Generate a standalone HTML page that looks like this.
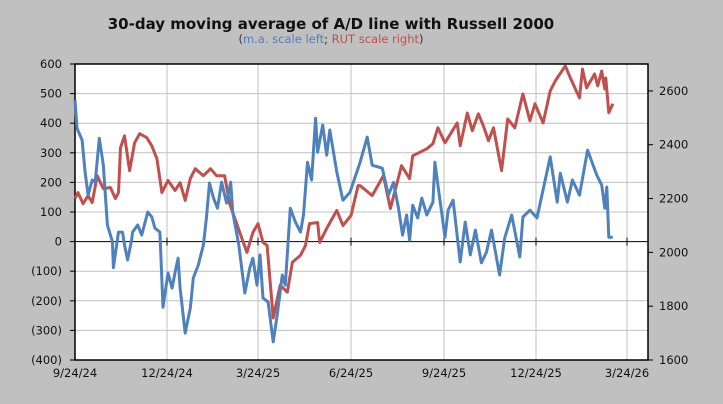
<!DOCTYPE html>
<html><head><meta charset="utf-8"><style>
html,body{margin:0;padding:0;background:#c0c0c0;}
svg{display:block;font-family:"DejaVu Sans","Liberation Sans",sans-serif;}
</style></head><body>
<svg id="chart" width="723" height="404" xmlns="http://www.w3.org/2000/svg">
<rect x="0" y="0" width="723" height="404" fill="#c0c0c0"/>
<text x="331" y="29" text-anchor="middle" font-size="15" font-weight="bold" fill="#111">30-day moving average of A/D line with Russell 2000</text>
<text x="331" y="43" text-anchor="middle" font-size="11.5"><tspan fill="#333">(</tspan><tspan fill="#4f81bd">m.a. scale left</tspan><tspan fill="#333">; </tspan><tspan fill="#c0504d">RUT scale right</tspan><tspan fill="#333">)</tspan></text>
<rect x="75" y="64" width="573" height="296" fill="#fff"/>
<g id="grid"></g><g id="axes"></g><g id="series"></g>
</svg>
<script>
const xTickLabels=["9/24/24","12/24/24","3/24/25","6/24/25","9/24/25","12/24/25","3/24/26"];
const xTickDays=[0,91,181,273,365,456,546];
const leftTicks=[600,500,400,300,200,100,0,-100,-200,-300,-400];
const leftTickLabels=["600","500","400","300","200","100","0","(100)","(200)","(300)","(400)"];
const rightTicks=[2600,2400,2200,2000,1800,1600];
const adDays=[0,2,7,10,13,17,20,24,28,32,37,38,43,47,49,52,56,57,62,66,72,76,79,84,87,92,96,99,102,104,109,114,117,122,127,130,133,137,141,145,150,154,156,162,168,173,176,180,183,186,191,196,200,205,208,213,218,223,226,230,234,238,240,245,249,252,259,265,272,282,289,294,304,310,315,320,324,328,331,334,339,343,348,354,356,359,366,369,374,381,386,391,396,402,407,412,420,425,432,440,443,450,457,470,477,480,487,492,499,507,516,521,524,526,528,532];
const adValues=[478,383,343,235,157,208,201,349,259,56,0,-88,32,32,-11,-62,5,32,56,22,100,83,46,32,-222,-106,-157,-103,-56,-157,-309,-225,-123,-79,-11,80,198,147,113,201,130,201,100,-11,-174,-88,-56,-147,-45,-191,-204,-339,-248,-113,-147,113,66,32,90,268,208,417,302,394,292,377,235,140,167,268,353,258,248,157,200,113,22,90,5,123,80,147,90,133,268,191,15,106,140,-69,66,-45,39,-72,-35,39,-113,12,90,-52,83,106,80,286,133,231,133,208,157,309,225,191,113,184,15,15];
const rutDays=[0,3,8,13,17,22,28,35,40,43,45,49,54,59,64,71,76,81,86,92,99,104,109,114,119,127,134,140,148,153,163,170,176,181,186,190,196,203,210,215,223,228,232,240,242,249,259,265,273,280,282,294,305,312,323,331,334,348,354,359,366,378,381,388,393,399,404,409,414,422,428,435,443,450,455,463,470,475,485,490,499,502,506,514,517,521,524,525,528,532];
const rutValues=[2200,2222,2181,2211,2185,2285,2237,2241,2200,2222,2389,2433,2304,2407,2441,2426,2396,2348,2222,2267,2230,2259,2193,2274,2311,2285,2311,2285,2285,2181,2074,2000,2074,2107,2037,2026,1756,1878,1852,1963,1989,2026,2107,2111,2037,2089,2156,2100,2137,2248,2248,2211,2285,2163,2322,2274,2359,2385,2404,2463,2407,2481,2396,2518,2452,2515,2470,2415,2463,2304,2496,2463,2589,2489,2552,2481,2600,2637,2693,2648,2574,2681,2611,2663,2619,2674,2607,2648,2519,2552];

const L=75,R=648,T=64,B=360;
const xs=d=>L+d*(552/546);
const yL=v=>T+(600-v)*(B-T)/1000;
const yR=v=>T+(2700-v)*(B-T)/1100;
const NS="http://www.w3.org/2000/svg";
function mk(parent,tag,attrs){const e=document.createElementNS(NS,tag);for(const k in attrs)e.setAttribute(k,attrs[k]);document.getElementById(parent).appendChild(e);return e;}

leftTicks.forEach((v,i)=>{
  const y=yL(v);
  const g=mk('grid','line',{x1:L,x2:R,y1:y,y2:y,stroke:v===0?'#000':'#c0c0c0','stroke-width':1});
  
  
  const t=mk('axes','line',{x1:L-5,x2:L,y1:y,y2:y,stroke:'#000'});
  
  
  const tx=mk('axes','text',{x:L-13,y:y+4,'text-anchor':'end','font-size':11.5,fill:'#111'});
  tx.textContent=leftTickLabels[i];
  
  
});
xTickDays.forEach((d,i)=>{
  const x=xs(d);
  if(i>0){const g=mk('grid','line',{x1:x,x2:x,y1:T,y2:B,stroke:'#c0c0c0'});
  
  }
  const tk=mk('axes','line',{x1:x,x2:x,y1:yL(0)-4,y2:yL(0)+4,stroke:'#000'});
  
  
  const tx=mk('axes','text',{x:x,y:B+17,'text-anchor':'middle','font-size':11.5,fill:'#111'});
  tx.textContent=xTickLabels[i];
  
  
});
rightTicks.forEach(v=>{
  const y=yR(v);
  const t=mk('axes','line',{x1:R,x2:R+5,y1:y,y2:y,stroke:'#000'});
  
  
  const tx=mk('axes','text',{x:R+11,y:y+4,'text-anchor':'start','font-size':11.5,fill:'#111'});
  tx.textContent=String(v);
  
  
});
const fr=mk('axes','rect',{x:L,y:T,width:R-L,height:B-T,fill:'none',stroke:'#000','stroke-width':1.5});



const rp=mk('series','polyline',{points:rutDays.map((d,i)=>xs(d).toFixed(1)+','+yR(rutValues[i]).toFixed(1)).join(' '),fill:'none',stroke:'#c0504d','stroke-width':3,'stroke-linejoin':'round'});


const ap=mk('series','polyline',{points:adDays.map((d,i)=>xs(d).toFixed(1)+','+yL(adValues[i]).toFixed(1)).join(' '),fill:'none',stroke:'#4f81bd','stroke-width':3,'stroke-linejoin':'round'});


</script>
</body></html>
